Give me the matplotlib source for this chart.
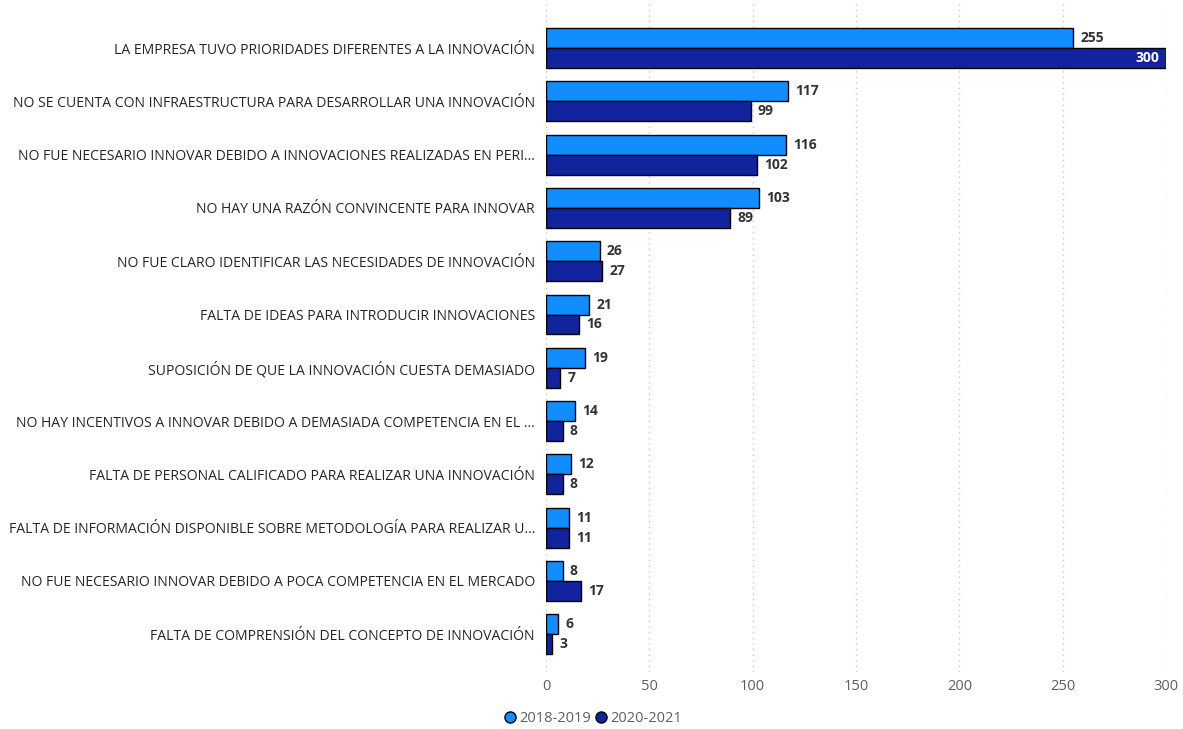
import matplotlib
matplotlib.use("Agg")
import matplotlib.pyplot as plt
from matplotlib.lines import Line2D

categories = [
    "LA EMPRESA TUVO PRIORIDADES DIFERENTES A LA INNOVACIÓN",
    "NO SE CUENTA CON INFRAESTRUCTURA PARA DESARROLLAR UNA INNOVACIÓN",
    "NO FUE NECESARIO INNOVAR DEBIDO A INNOVACIONES REALIZADAS EN PERI...",
    "NO HAY UNA RAZÓN CONVINCENTE PARA INNOVAR",
    "NO FUE CLARO IDENTIFICAR LAS NECESIDADES DE INNOVACIÓN",
    "FALTA DE IDEAS PARA INTRODUCIR INNOVACIONES",
    "SUPOSICIÓN DE QUE LA INNOVACIÓN CUESTA DEMASIADO",
    "NO HAY INCENTIVOS A INNOVAR DEBIDO A DEMASIADA COMPETENCIA EN EL ...",
    "FALTA DE PERSONAL CALIFICADO PARA REALIZAR UNA INNOVACIÓN",
    "FALTA DE INFORMACIÓN DISPONIBLE SOBRE METODOLOGÍA PARA REALIZAR U...",
    "NO FUE NECESARIO INNOVAR DEBIDO A POCA COMPETENCIA EN EL MERCADO",
    "FALTA DE COMPRENSIÓN DEL CONCEPTO DE INNOVACIÓN",
]
values_2018_2019 = [255, 117, 116, 103, 26, 21, 19, 14, 12, 11, 8, 6]
values_2020_2021 = [300, 99, 102, 89, 27, 16, 7, 8, 8, 11, 17, 3]
series_names = ["2018-2019", "2020-2021"]
x_ticks = [0, 50, 100, 150, 200, 250, 300]

color_a = "#118DFF"
color_b = "#12239E"
font = ["Open Sans", "DejaVu Sans"]

W, H = 1183, 729
fig = plt.figure(figsize=(W / 100, H / 100), dpi=100)
left_px, right_px = 546, 1166
top_px, bottom_px = 2, 672
ax = fig.add_axes([left_px / W, 1 - bottom_px / H,
                   (right_px - left_px) / W, (bottom_px - top_px) / H])

first_center, step = 48, 53.3
ax.set_ylim((bottom_px - first_center) / step, (top_px - first_center) / step)
ax.set_xlim(0, 300)

bh = 0.375
ys = list(range(len(categories)))
ax.barh([y - bh / 2 for y in ys], values_2018_2019, height=bh, color=color_a,
        edgecolor="black", linewidth=1, zorder=3)
ax.barh([y + bh / 2 for y in ys], values_2020_2021, height=bh, color=color_b,
        edgecolor="black", linewidth=1, zorder=3)

xmax = 300
for y, v in zip(ys, values_2018_2019):
    ax.text(v + 3.5, y - bh / 2, str(v), va="center", ha="left", fontsize=10,
            fontweight="bold", color="#333333", family=font, zorder=4)
for y, v in zip(ys, values_2020_2021):
    if v > xmax * 0.9:
        ax.text(v - 3, y + bh / 2, str(v), va="center", ha="right", fontsize=10,
                fontweight="bold", color="white", family=font, zorder=4)
    else:
        ax.text(v + 3.5, y + bh / 2, str(v), va="center", ha="left", fontsize=10,
                fontweight="bold", color="#333333", family=font, zorder=4)

ax.set_yticks(ys)
ax.set_yticklabels(categories, family=font, fontsize=10.1, color="#252423")
ax.set_xticks(x_ticks)
ax.set_xticklabels([str(t) for t in x_ticks], family=font, fontsize=10.5,
                   color="#605E5C")
ax.tick_params(axis="both", length=0)
ax.tick_params(axis="y", pad=8)
ax.tick_params(axis="x", pad=5)
ax.grid(axis="x", linestyle=(0, (1, 3)), color="#C8C8C8", linewidth=1, zorder=0)
for s in ax.spines.values():
    s.set_visible(False)

handles = [Line2D([], [], marker="o", linestyle="", markersize=8,
                  markerfacecolor=c, markeredgecolor="black", markeredgewidth=1)
           for c in (color_a, color_b)]
leg = fig.legend(handles, series_names, loc="center left",
                 bbox_to_anchor=(490 / W, 1 - 719 / H), ncol=2, frameon=False,
                 handletextpad=0.1, columnspacing=0.2, handlelength=1,
                 prop={"family": font, "size": 10.5})
for t in leg.get_texts():
    t.set_color("#605E5C")

fig.savefig("out.png", dpi=100)
